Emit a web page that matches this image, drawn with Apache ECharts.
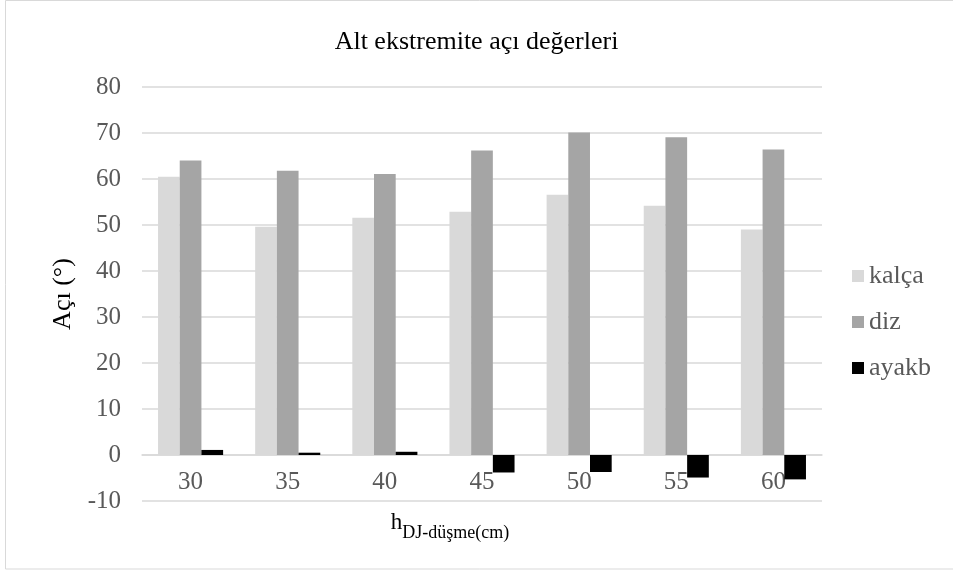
<!DOCTYPE html>
<html>
<head>
<meta charset="utf-8">
<script src="https://cdn.jsdelivr.net/npm/echarts@6/dist/echarts.min.js"></script>
<style>
  html, body { margin: 0; padding: 0; background: #fff; }
  #main { width: 953px; height: 571px; }
</style>
</head>
<body>
<div id="main"></div>
<script type="text/javascript">
// kategoriler ve seriler
var heights = ['30', '35', '40', '45', '50', '55', '60'];
var kalca = [60.5, 49.6, 51.6, 52.9, 56.6, 54.2, 49.0];
var diz = [64.0, 61.8, 61.1, 66.2, 70.1, 69.1, 66.4];
var ayakb = [1.1, 0.5, 0.7, -3.8, -3.7, -4.9, -5.3];

var serif = '"Liberation Serif", "DejaVu Serif", serif';
var chart = echarts.init(document.getElementById('main'));

var option = {
  backgroundColor: '#ffffff',
  animation: false,
  textStyle: { fontFamily: serif },
  title: {
    text: 'Alt ekstremite açı değerleri',
    left: 'center',
    top: 24,
    textStyle: { fontFamily: serif, fontSize: 26, fontWeight: 'normal', color: '#000000' }
  },
  legend: {
    orient: 'vertical',
    left: 847,
    top: 258,
    itemWidth: 12,
    itemHeight: 12,
    itemGap: 20,
    icon: 'rect',
    textStyle: { fontFamily: serif, fontSize: 26, color: '#595959' },
    data: ['kalça', 'diz', 'ayakb']
  },
  grid: { left: 142, right: 131, top: 87, bottom: 70, outerBoundsMode: 'none', containLabel: false },
  xAxis: {
    type: 'category',
    data: heights,
    z: 0,
    axisLine: { onZero: true, lineStyle: { color: '#d9d9d9', width: 1.5 } },
    axisTick: { show: false },
    // etiketler sıfır çizgisinin hemen altında
    axisLabel: { fontFamily: serif, fontSize: 25, color: '#595959', margin: -31 },
    name: '{h|h}{s|DJ-düşme(cm)}',
    nameLocation: 'middle',
    nameGap: 5,
    nameTextStyle: {
      padding: [0, 64, 0, 0],
      rich: {
        h: { fontFamily: serif, fontSize: 23, color: '#000000', verticalAlign: 'bottom', lineHeight: 28 },
        s: { fontFamily: serif, fontSize: 18, color: '#000000', verticalAlign: 'bottom', padding: [0, 0, -8, 0], lineHeight: 28 }
      }
    }
  },
  yAxis: {
    type: 'value',
    min: -10,
    max: 80,
    interval: 10,
    name: 'Açı (°)',
    nameLocation: 'middle',
    nameGap: 66,
    nameRotate: 90,
    nameTextStyle: { fontFamily: serif, fontSize: 26, color: '#000000' },
    axisLine: { show: false },
    axisTick: { show: false },
    axisLabel: { fontFamily: serif, fontSize: 25, color: '#595959', margin: 21 },
    splitLine: { lineStyle: { color: '#d9d9d9', width: 1.5 } }
  },
  series: [
    { name: 'kalça', type: 'bar', data: kalca, barGap: '0%', barCategoryGap: '33%', z: 3,
      itemStyle: { color: '#d9d9d9' } },
    { name: 'diz', type: 'bar', data: diz, barGap: '0%', barCategoryGap: '33%', z: 3,
      itemStyle: { color: '#a5a5a5' } },
    { name: 'ayakb', type: 'bar', data: ayakb, barGap: '0%', barCategoryGap: '33%', z: 3,
      itemStyle: { color: '#000000' } }
  ],
  graphic: [{
    type: 'rect',
    shape: { x: 5.5, y: 0.5, width: 952, height: 568.5 },
    style: { fill: 'none', stroke: '#d9d9d9', lineWidth: 1 },
    silent: true
  }]
};

chart.setOption(option);
</script>
</body>
</html>
